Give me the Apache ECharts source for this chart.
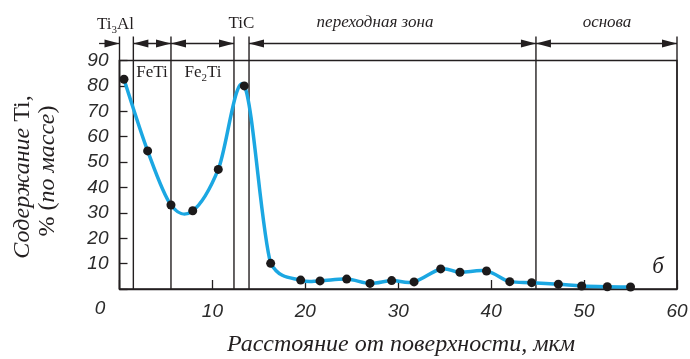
<!DOCTYPE html>
<html lang="ru">
<head>
<meta charset="UTF-8">
<title>Содержание Ti</title>
<script src="https://cdn.jsdelivr.net/npm/echarts@6.0.0/dist/echarts.min.js"></script>
<style>
  html, body { margin: 0; padding: 0; background: #fff; }
  #chart { width: 690px; height: 359px; }
</style>
</head>
<body>
<div id="chart"></div>
<script>
// расстояние от поверхности, мкм
const distance = [0.48, 3.03, 5.54, 7.88, 10.63, 13.43, 16.27, 19.5, 21.58, 24.45, 26.96,
  29.29, 31.7, 34.57, 36.64, 39.5, 42.0, 44.36, 47.23, 49.74, 52.5, 55.0];
// содержание Ti, % (по массе)
const tiContent = [82.6, 54.4, 33.1, 30.8, 47.1, 80.0, 10.1, 3.5, 3.2, 3.9, 2.2,
  3.3, 2.8, 7.9, 6.6, 7.1, 2.9, 2.5, 1.9, 1.2, 0.9, 0.8];
// границы зон
const boundaries = [0, 1.49, 5.54, 12.32, 13.94, 44.82, 60];
// стрелки зон: начало, конец, наконечники
const zoneStart = [-2.2, 1.49, 5.54, 13.94, 44.82];
const zoneEnd = [0, 5.54, 12.32, 44.82, 60];
const zoneHeads = ['end', 'both', 'both', 'both', 'both'];

const ink = '#231f20';
const serif = '"Liberation Serif", "DejaVu Serif", serif';
const sans = '"Liberation Sans", Arial, sans-serif';

const points = distance.map((d, i) => [d, tiContent[i]]);

const chart = echarts.init(document.getElementById('chart'), null, { renderer: 'canvas' });

function boundaryItem(params, api) {
  const x = api.value(0);
  const bottom = api.coord([x, 0]);
  const top = api.coord([x, 90]);
  return {
    type: 'line',
    shape: { x1: bottom[0], y1: bottom[1], x2: top[0], y2: top[1] - 24 },
    style: { stroke: ink, lineWidth: 1.4 }
  };
}

function arrowItem(params, api) {
  const i = params.dataIndex;
  const a = api.coord([api.value(0), 90]);
  const b = api.coord([api.value(1), 90]);
  const y = a[1] - 17;
  const x1 = a[0], x2 = b[0];
  const heads = zoneHeads[i];
  const kids = [{
    type: 'line',
    shape: { x1: x1, y1: y, x2: x2, y2: y },
    style: { stroke: ink, lineWidth: 1.3 }
  }];
  if (heads === 'both' || heads === 'start') {
    kids.push({ type: 'polygon', shape: { points: [[x1, y], [x1 + 15, y - 4], [x1 + 15, y + 4]] }, style: { fill: ink } });
  }
  if (heads === 'both' || heads === 'end') {
    kids.push({ type: 'polygon', shape: { points: [[x2, y], [x2 - 15, y - 4], [x2 - 15, y + 4]] }, style: { fill: ink } });
  }
  return { type: 'group', children: kids };
}

// сплайн Катмулла-Рома по экранным координатам, сегмент i -> i+1
function curveItem(params, api) {
  const i = params.dataIndex;
  const n = points.length;
  const c = k => api.coord(points[Math.max(0, Math.min(n - 1, k))]);
  const p0 = c(i - 1), p1 = c(i), p2 = c(i + 1), p3 = c(i + 2);
  let cp1 = [p1[0] + (p2[0] - p0[0]) / 6, p1[1] + (p2[1] - p0[1]) / 6];
  let cp2 = [p2[0] - (p3[0] - p1[0]) / 6, p2[1] - (p3[1] - p1[1]) / 6];
  // на монотонных участках без выбросов
  const ys = [p0[1], p1[1], p2[1], p3[1]];
  const mono = (ys[0] <= ys[1] && ys[1] <= ys[2] && ys[2] <= ys[3]) ||
               (ys[0] >= ys[1] && ys[1] >= ys[2] && ys[2] >= ys[3]);
  if (mono) {
    const lo = Math.min(p1[1], p2[1]), hi = Math.max(p1[1], p2[1]);
    cp1[1] = Math.max(lo, Math.min(hi, cp1[1]));
    cp2[1] = Math.max(lo, Math.min(hi, cp2[1]));
  }
  return {
    type: 'bezierCurve',
    shape: { x1: p1[0], y1: p1[1], cpx1: cp1[0], cpy1: cp1[1], cpx2: cp2[0], cpy2: cp2[1], x2: p2[0], y2: p2[1] },
    style: { stroke: '#1ba7e2', lineWidth: 3.5, lineCap: 'round', fill: null }
  };
}

function txt(x, y, text, font, extra) {
  return {
    type: 'text', x: x, y: y, silent: true,
    style: Object.assign({ text: text, font: font, fill: ink, align: 'center', verticalAlign: 'middle' }, extra || {})
  };
}

const subRich = {
  m: { fontFamily: serif, fontSize: 17, color: ink, lineHeight: 22 },
  s: { fontFamily: serif, fontSize: 11, color: ink, lineHeight: 10, verticalAlign: 'bottom' }
};
const titleRich = {
  i: { fontFamily: serif, fontStyle: 'italic', fontSize: 24, color: ink },
  r: { fontFamily: serif, fontSize: 24, color: ink }
};

const option = {
  animation: false,
  backgroundColor: '#fff',
  grid: {
    left: 119.5, right: 13, top: 60.5, bottom: 70,
    containLabel: false, outerBoundsMode: 'none',
    show: true, borderColor: ink, borderWidth: 1.4, backgroundColor: 'transparent'
  },
  xAxis: {
    type: 'value', min: 0, max: 60, interval: 10,
    axisLine: { show: true, onZero: false, lineStyle: { color: ink, width: 1.4 } },
    axisTick: { show: true, inside: true, length: 9, lineStyle: { color: ink, width: 1.3 } },
    axisLabel: {
      margin: 13, color: '#2b2b2b', fontFamily: sans, fontStyle: 'italic', fontSize: 19,
      formatter: v => (v === 0 ? '' : String(v))
    },
    splitLine: { show: false }
  },
  yAxis: {
    type: 'value', min: 0, max: 90, interval: 10,
    axisLine: { show: true, onZero: false, lineStyle: { color: ink, width: 1.4 } },
    axisTick: { show: true, inside: true, length: 8, lineStyle: { color: ink, width: 1.3 } },
    axisLabel: {
      margin: 11, color: '#2b2b2b', fontFamily: sans, fontStyle: 'italic', fontSize: 19,
      formatter: v => (v === 0 ? '' : String(v))
    },
    splitLine: { show: false }
  },
  series: [
    {
      type: 'custom', name: 'границы', clip: false, silent: true, z: 1,
      data: boundaries.map(x => [x]),
      encode: { x: 0 },
      renderItem: boundaryItem
    },
    {
      type: 'custom', name: 'зоны', clip: false, silent: true, z: 1,
      data: zoneStart.map((s, i) => [s, zoneEnd[i]]),
      encode: { x: [0, 1] },
      renderItem: arrowItem
    },
    {
      type: 'custom', name: 'кривая', clip: false, silent: true, z: 4,
      data: points.slice(0, -1),
      encode: { x: 0, y: 1 },
      renderItem: curveItem
    },
    {
      type: 'scatter', name: 'Ti', z: 5, silent: true,
      data: points,
      symbol: 'circle', symbolSize: 9,
      itemStyle: { color: '#1c1a1b', opacity: 1 }
    }
  ],
  graphic: [
    txt(115.5, 25, '{m|Ti}{s|3}{m|Al}', null, { rich: subRich }),
    txt(241.5, 24, 'TiC', '17px ' + serif),
    txt(375, 23, 'переходная зона', 'italic 17px ' + serif),
    txt(607, 23, 'основа', 'italic 17px ' + serif),
    txt(152, 73, 'FeTi', '17px ' + serif),
    txt(203, 73, '{m|Fe}{s|2}{m|Ti}', null, { rich: subRich }),
    txt(658, 267, 'б', 'italic 23px ' + serif),
    txt(100, 309, '0', 'italic 19px ' + sans, { fill: '#2b2b2b' }),
    txt(401, 345, 'Расстояние от поверхности, мкм', 'italic 24px ' + serif),
    Object.assign(txt(23, 177, '{i|Содержание }{r|Ti,}', null, { rich: titleRich }), { rotation: Math.PI / 2 }),
    Object.assign(txt(48, 171, '{r|% (}{i|по массе}{r|)}', null, { rich: titleRich }), { rotation: Math.PI / 2 })
  ]
};

chart.setOption(option);
</script>
</body>
</html>
